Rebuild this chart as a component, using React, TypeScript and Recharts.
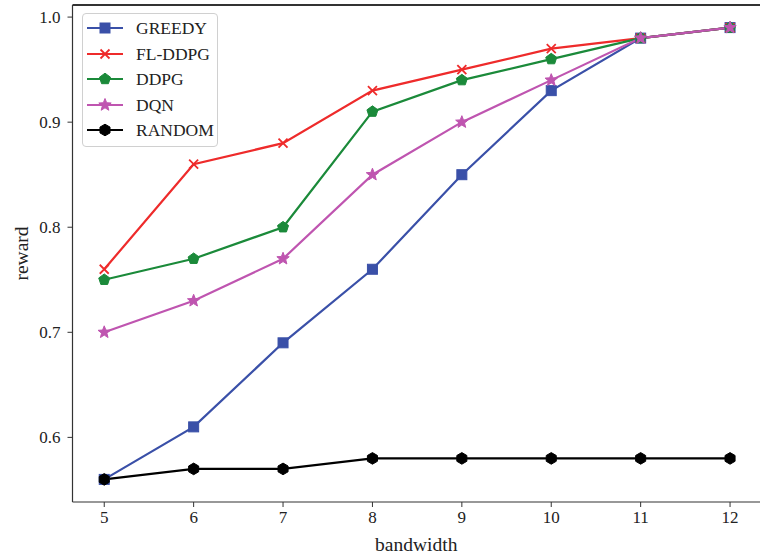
import React from 'react';
import { LineChart, Line, XAxis, YAxis, ReferenceLine } from 'recharts';

const bandwidth = [5, 6, 7, 8, 9, 10, 11, 12];
const greedy = [0.56, 0.61, 0.69, 0.76, 0.85, 0.93, 0.98, 0.99];
const flddpg = [0.76, 0.86, 0.88, 0.93, 0.95, 0.97, 0.98, 0.99];
const ddpg = [0.75, 0.77, 0.80, 0.91, 0.94, 0.96, 0.98, 0.99];
const dqn = [0.70, 0.73, 0.77, 0.85, 0.90, 0.94, 0.98, 0.99];
const random = [0.56, 0.57, 0.57, 0.58, 0.58, 0.58, 0.58, 0.58];
const xTicks = [5, 6, 7, 8, 9, 10, 11, 12];
const yTicks = [0.6, 0.7, 0.8, 0.9, 1.0];

const data = bandwidth.map((b, i) => ({
  b,
  greedy: greedy[i],
  flddpg: flddpg[i],
  ddpg: ddpg[i],
  dqn: dqn[i],
  random: random[i],
}));

const FONT = "'Liberation Serif', 'Times New Roman', serif";

type Shape = 'square' | 'x' | 'pentagon' | 'star' | 'hexagon';

function polyPoints(cx: number, cy: number, n: number, r: number, rot: number) {
  const pts: string[] = [];
  for (let i = 0; i < n; i++) {
    const a = rot + (i * 2 * Math.PI) / n;
    pts.push(`${cx + r * Math.cos(a)},${cy + r * Math.sin(a)}`);
  }
  return pts.join(' ');
}

function starPoints(cx: number, cy: number, ro: number, ri: number) {
  const pts: string[] = [];
  for (let i = 0; i < 10; i++) {
    const r = i % 2 === 0 ? ro : ri;
    const a = -Math.PI / 2 + (i * Math.PI) / 5;
    pts.push(`${cx + r * Math.cos(a)},${cy + r * Math.sin(a)}`);
  }
  return pts.join(' ');
}

function Marker({ shape, cx, cy, color }: { shape: Shape; cx: number; cy: number; color: string }) {
  if (cx == null || cy == null) return null;
  switch (shape) {
    case 'square':
      return <rect x={cx - 5} y={cy - 5} width={10} height={10} fill={color} stroke={color} strokeWidth={1} />;
    case 'x':
      return (
        <g stroke={color} strokeWidth={1.8}>
          <line x1={cx - 4.5} y1={cy - 4.5} x2={cx + 4.5} y2={cy + 4.5} />
          <line x1={cx - 4.5} y1={cy + 4.5} x2={cx + 4.5} y2={cy - 4.5} />
        </g>
      );
    case 'pentagon':
      return <polygon points={polyPoints(cx, cy, 5, 5.8, -Math.PI / 2)} fill={color} stroke={color} strokeWidth={1} />;
    case 'star':
      return <polygon points={starPoints(cx, cy, 6.5, 2.8)} fill={color} stroke={color} strokeWidth={1} />;
    case 'hexagon':
      return <polygon points={polyPoints(cx, cy, 6, 5.8, -Math.PI / 2)} fill={color} stroke={color} strokeWidth={1} />;
  }
  return null;
}

const series: { key: string; name: string; color: string; shape: Shape }[] = [
  { key: 'greedy', name: 'GREEDY', color: '#3A50A8', shape: 'square' },
  { key: 'flddpg', name: 'FL-DDPG', color: '#EE2B2B', shape: 'x' },
  { key: 'ddpg', name: 'DDPG', color: '#1B8A3A', shape: 'pentagon' },
  { key: 'dqn', name: 'DQN', color: '#BF55B0', shape: 'star' },
  { key: 'random', name: 'RANDOM', color: '#000000', shape: 'hexagon' },
];

function LegendBox() {
  return (
    <div
      style={{
        position: 'absolute',
        left: 82,
        top: 13,
        width: 134,
        height: 132,
        border: '1px solid #d0d0d0',
        borderRadius: 4,
        background: 'rgba(255,255,255,0.85)',
      }}
    >
      {series.map((s, i) => (
        <div key={s.key} style={{ position: 'absolute', left: 0, top: 3 + i * 25.6, height: 22, width: 134 }}>
          <svg width={44} height={22} style={{ position: 'absolute', left: 2, top: 0 }}>
            <line x1={2} y1={11} x2={38} y2={11} stroke={s.color} strokeWidth={2} />
            <Marker shape={s.shape} cx={20} cy={11} color={s.color} />
          </svg>
          <span
            style={{
              position: 'absolute',
              left: 53,
              top: 0,
              fontFamily: FONT,
              fontSize: 17.5,
              color: '#222',
              lineHeight: '22px',
              whiteSpace: 'nowrap',
            }}
          >
            {s.name}
          </span>
        </div>
      ))}
    </div>
  );
}

export default function App() {
  return (
    <div style={{ position: 'absolute', left: 0, top: 0, width: 760, height: 556, background: '#fff' }}>
      <LineChart
        width={760}
        height={556}
        data={data}
        margin={{ top: 5, right: 0, bottom: 0, left: 0 }}
      >
        <XAxis
          dataKey="b"
          type="number"
          domain={[4.645, 12.335]}
          ticks={xTicks}
          allowDataOverflow
          height={54}
          tickSize={5}
          tickMargin={4}
          axisLine={{ stroke: '#333', strokeWidth: 1.2 }}
          tickLine={{ stroke: '#333' }}
          tick={{ fill: '#222', fontFamily: FONT, fontSize: 17 }}
          label={{ value: 'bandwidth', position: 'insideBottom', offset: 5, fill: '#222', fontFamily: FONT, fontSize: 19.5 }}
        />
        <YAxis
          type="number"
          domain={[0.5385, 1.0115]}
          ticks={yTicks}
          allowDataOverflow
          width={72.5}
          tickSize={5}
          tickMargin={7}
          axisLine={{ stroke: '#333', strokeWidth: 1.2 }}
          tickLine={{ stroke: '#333' }}
          tick={{ fill: '#222', fontFamily: FONT, fontSize: 17 }}
          tickFormatter={(v: number) => v.toFixed(1)}
          label={{ value: 'reward', angle: -90, position: 'insideLeft', offset: 21, fill: '#222', fontFamily: FONT, fontSize: 19.5, style: { textAnchor: 'middle' } }}
        />
        <ReferenceLine y={1.0115} stroke="#333" strokeWidth={2} ifOverflow="visible" />
        {series.map((s) => (
          <Line
            key={s.key}
            dataKey={s.key}
            name={s.name}
            stroke={s.color}
            strokeWidth={2.2}
            isAnimationActive={false}
            dot={(p: any) => <Marker key={`${s.key}-${p.index}`} shape={s.shape} cx={p.cx} cy={p.cy} color={s.color} />}
            activeDot={false}
          />
        ))}
      </LineChart>
      <LegendBox />
    </div>
  );
}
